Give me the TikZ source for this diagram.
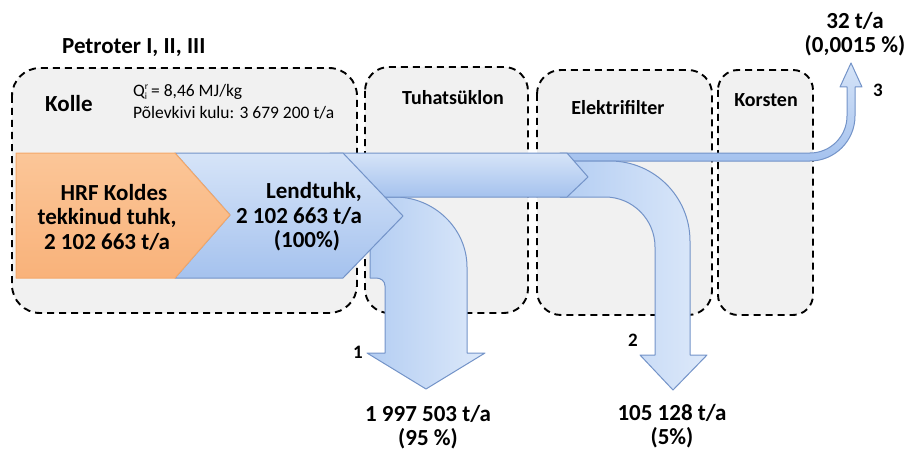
\documentclass[tikz,border=0pt]{standalone}
\usepackage{fontspec}
\setmainfont{Carlito}
\begin{document}
\begin{tikzpicture}[x=1pt,y=-1pt,
  stage/.style={draw=black,fill=stagegray,dash pattern=on 7pt off 5pt,line width=1.9pt,rounded corners=28pt},
  lbl/.style={font=\bfseries\fontsize{23}{24.5}\selectfont,align=center,inner sep=0pt},
  stagelbl/.style={font=\bfseries\fontsize{20}{24}\selectfont,inner sep=0pt},
  small/.style={font=\fontsize{17.5}{21}\selectfont,inner sep=0pt,anchor=base west},
  num/.style={font=\bfseries\fontsize{19}{20}\selectfont,inner sep=0pt},
  flowv/.style={left color=bluevdark,right color=bluevlight,draw=bluestroke,line width=1pt,line join=round},
  flowh/.style={top color=bluelight,bottom color=bluedark,draw=bluestroke,line width=1pt,line join=round}]
\definecolor{stagegray}{HTML}{F1F1F1}
\definecolor{bluedark}{HTML}{A5C2EE}
\definecolor{bluelight}{HTML}{D6E4F8}
\definecolor{bluevdark}{HTML}{B3CDF2}
\definecolor{bluevlight}{HTML}{DDE9FA}
\definecolor{bluestroke}{HTML}{7393C8}
\definecolor{orangetop}{HTML}{FBC698}
\definecolor{orangebot}{HTML}{F9B27A}
\definecolor{orangestroke}{HTML}{F4A869}
\useasboundingbox (0,0) rectangle (906,452);
% stage boxes
\draw[stage] (12,68) rectangle (357,313);
\draw[stage,rounded corners=24pt] (365,67) rectangle (528,313);
\draw[stage,rounded corners=24pt] (537,70) rectangle (712,315);
\draw[stage,rounded corners=20pt] (718,70) rectangle (813,315);
\node[lbl,anchor=west] (petroter) at (62,48) {Petroter I, II, III};
\node[lbl,anchor=west] (kolle) at (45,104) {Kolle};
\node[small] (q) at (133,97) {Q\rlap{\raisebox{7pt}{\fontsize{9.5}{9.5}\selectfont r}}\raisebox{-2.5pt}{\fontsize{9.5}{9.5}\selectfont i} = 8,46 MJ/kg};
\node[small] (kulu) at (133,118) {Põlevkivi kulu: 3 679 200 t/a};
\node[stagelbl] (tuha) at (453,98) {Tuhatsüklon};
\node[stagelbl] (elek) at (618,108) {Elektrifilter};
\node[stagelbl] (kors) at (766,100) {Korsten};
% stream 3 (thin, to chimney)
\shade[flowh] (560,153) -- (810,153) .. controls (830.4,153) and (847,136.4) .. (847,116)
  -- (847,87) -- (840,87) -- (851,63) -- (862,87) -- (855,87) -- (855,116)
  .. controls (855,140.8) and (834.8,161) .. (810,161) -- (560,161) -- cycle;
% stream 2 (electrofilter)
\shade[flowv] (560,161) -- (610,161) .. controls (654.2,161) and (690,196.8) .. (690,241)
  -- (690,355) -- (707,355) -- (673,390) -- (640,355) -- (655,355) -- (655,247)
  .. controls (655,219.4) and (632.6,197) .. (605,197) -- (560,197) -- cycle;
% stream 1 (cyclone)
\shade[flowv] (370,197) -- (395,197) .. controls (433.7,197) and (467,228.3) .. (467,267)
  -- (467,353) -- (485,353) -- (426,389) -- (367,353) -- (385,353) -- (385,286)
  .. controls (385,281) and (381,278) .. (376,278) -- (370,278) -- cycle;
% upper band
\shade[flowh] (330,153) -- (567,153) -- (588,177) -- (567,197) -- (330,197) -- cycle;
% Lendtuhk chevron
\shade[flowh] (175,153) -- (343,153) -- (403,216) -- (343,278) -- (175,278) -- (230,215) -- cycle;
% orange
\shade[top color=orangetop,bottom color=orangebot,draw=orangestroke,line width=1pt,line join=round]
  (16,153) -- (175,153) -- (230,215) -- (175,278) -- (16,278) -- cycle;
\node[lbl] (hrf) at (107,217) {\hspace*{14pt}HRF Koldes\\tekkinud tuhk,\\2 102 663 t/a};
\node[lbl] (lend) at (299,217) {\hspace*{30pt}Lendtuhk,\\2 102 663 t/a\\\hspace*{16pt}(100\%)};
\node[num] (n1) at (358,352) {1};
\node[num] (n2) at (633,340) {2};
\node[num] (n3) at (878,90) {3};
\node[lbl] (out1) at (428,427) {1 997 503 t/a\\(95 \%)};
\node[lbl] (out2) at (672,426) {105 128 t/a\\(5\%)};
\node[lbl] (out3) at (855,34) {32 t/a\\(0,0015 \%)};
\end{tikzpicture}
\end{document}
